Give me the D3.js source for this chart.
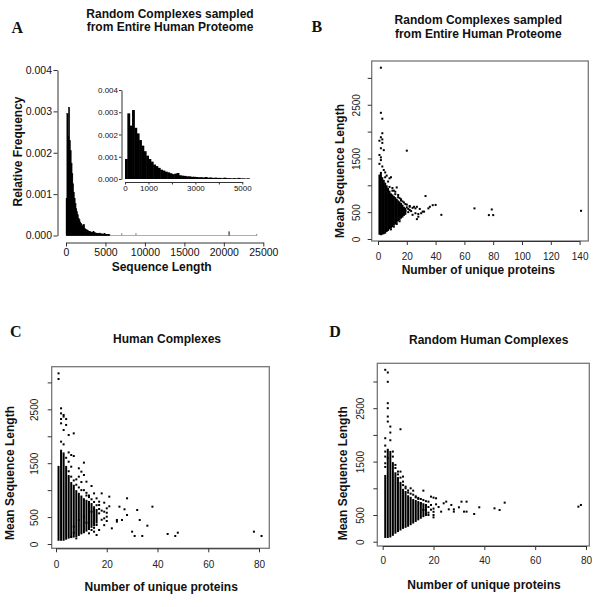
<!DOCTYPE html>
<html><head><meta charset="utf-8">
<script src="https://cdn.jsdelivr.net/npm/d3@7"></script>
<style>body{margin:0;background:#fff}svg{display:block}</style>
</head><body><svg id="c" width="600" height="607"></svg>
<script>
// ---------- DATA ----------
// Panel A: histogram of sequence length (bin start, relative frequency x1e-3)
const binWidth = 100;
const histLo = [0,100,200,300,400,500,600,700,800,900,1000,1100,1200,1300,1400,1500,1600,1700,1800,1900,2000,2100,2200,2300,2400,2500,2600,2700,2800,2900,3000,3100,3200,3300,3400,3500,3600,3700,3800,3900,4000,4100,4200,4300,4400,4500,4600,4700,4800,4900,5000,5100,5200,5300,5400];
const histFreq = [0.9,2.95,2.4,3.1,2.3,2.05,1.75,1.5,1.25,1.05,0.9,0.78,0.65,0.58,0.5,0.42,0.38,0.33,0.3,0.26,0.22,0.24,0.27,0.17,0.15,0.14,0.12,0.12,0.1,0.1,0.09,0.08,0.08,0.07,0.09,0.06,0.07,0.05,0.06,0.05,0.05,0.04,0.06,0.04,0.04,0.03,0.04,0.03,0.05,0.03,0.03,0.02,0.03,0.02,0.02];
const tailLo = [7000,8800,20600,24100];
const tailFreq = [0.06,0.06,0.1,0.04];
const aXTicks = [0,5000,10000,15000,20000,25000];
const aYTicks = [0,0.001,0.002,0.003,0.004];
const insetXTicks = [0,1000,2000,3000,4000,5000];
const insetXLabels = [0,1000,3000,5000];

// Panel B: random complexes from entire proteome (dense columns + scattered points)
const bColN  = [1,2,3,4,5,6,7,8,9,10,11,12,13,14,15,16,17,18,19];
const bColLo = [80,70,80,90,100,130,150,180,200,220,250,270,300,330,350,380,400,430,450];
const bColHi = [1200,1250,1150,1100,1050,1000,950,900,850,830,800,780,750,720,700,670,640,600,580];
const bPts = [[2,3190],[2,2350],[3,2240],[3,1970],[2,1895],[1,1830],[3,1855],[3,1790],[2,1690],[4,1655],[1,1565],[2,1470],[1,1400],[3,1350],[4,1285],[2,1520],[5,1240],[20,1645],[8,1130],[9,1150],[13,960],[8,970],[12,835],[10,900],[15,760],[17,700],[22,600],[25,600],[26,570],[27,600],[24,450],[26,480],[28,415],[33,800],[35,570],[36,600],[38,630],[31,510],[28,465],[44,450],[30,480],[27,370],[32,510],[40,635],[67,570],[77,445],[80,445],[79,550],[141,525],[20,590],[22,615],[18,540],[21,500],[16,720],[14,820],[11,900],[19,650],[23,520],[6,1180],[7,1070],[5,1150],[10,950],[12,880],[14,780],[16,740],[18,680],[20,640],[21,560],[19,520],[17,470],[22,540],[15,330],[13,280],[11,230],[9,180],[24,580],[29,560]];
const bXTicks = [0,20,40,60,80,100,120,140];

// Panel C: human complexes
const cColN  = [1,2,3,4,5,6,7,8,9,10,11,12,13,14,15,16];
const cColLo = [60,60,60,80,100,110,120,130,150,180,200,230,260,300,330,380];
const cColHi = [1450,1750,1700,1450,1280,1150,1100,1000,950,900,850,820,800,760,700,650];
const cPts = [[1,3168],[1,3063],[2,2519],[2,2425],[2,2320],[3,2395],[3,2364],[4,2320],[2,2240],[5,2023],[7,2054],[3,2116],[4,2210],[6,1652],[7,1633],[5,1528],[6,1435],[11,1510],[9,1405],[10,1343],[11,1281],[9,1250],[12,1157],[14,1077],[15,940],[18,940],[16,848],[17,786],[19,767],[21,879],[25,693],[28,848],[27,644],[32,631],[38,693],[20,662],[20,507],[20,427],[24,446],[24,415],[26,446],[28,538],[33,446],[36,340],[22,291],[30,229],[31,149],[34,149],[44,186],[47,149],[48,210],[78,229],[81,149],[16,167],[17,260],[15,229],[16,353],[13,198],[17,569],[19,476],[17,724],[14,600],[11,507],[12,396],[9,446],[7,322],[7,210],[8,105],[6,136],[2,1900],[3,1850],[4,1600],[5,1700],[8,1200],[13,900],[10,1000],[12,950],[5,1350],[6,1250],[7,1180],[8,1100],[9,1050],[10,1150],[11,1000],[12,900],[13,870],[14,830],[15,780],[16,720],[17,650],[18,620],[19,600],[20,580],[18,450],[19,350],[15,300],[14,260],[21,700]];

// Panel D: random human complexes
const dColN  = [1,2,3,4,5,6,7,8,9,10,11,12,13,14,15,16,17];
const dColLo = [70,70,80,110,150,180,210,240,260,280,310,340,370,400,430,460,480];
const dColHi = [1250,1740,1700,1490,1300,1210,1120,990,950,870,840,800,780,760,740,720,700];
const dPts = [[1,3219],[2,3169],[2,2994],[2,2594],[2,2500],[2,2344],[2,2250],[7,2106],[1,1938],[3,2156],[3,2044],[1,1688],[1,1594],[1,1469],[2,1563],[4,1688],[4,1594],[5,1438],[6,1313],[7,1313],[8,1219],[8,1125],[9,1031],[11,1000],[12,956],[16,956],[19,844],[20,825],[21,813],[18,750],[19,688],[17,688],[15,719],[16,594],[17,594],[18,544],[20,500],[20,456],[23,563],[24,719],[25,750],[26,606],[27,688],[28,606],[28,563],[31,750],[33,750],[32,563],[33,563],[30,644],[36,519],[38,644],[44,625],[46,594],[48,731],[77,656],[78,688],[1,1800],[1,1400],[3,1900],[13,850],[14,820],[10,920],[5,1380],[6,1260],[7,1200],[8,1060],[9,1000],[10,960],[11,900],[12,880],[13,830],[14,800],[15,800],[16,780],[17,760],[18,650],[19,600],[20,620],[21,700],[22,650],[18,500],[17,520],[20,560]];
const cdXTicks = [0,20,40,60,80];
const seqYTicks = [0,500,1000,1500,2000,2500,3000];
const seqYLabels = [0,500,1500,2500];

// ---------- DRAW ----------
const SANS = "'Liberation Sans', Arial, sans-serif";
const svg = d3.select("#c");

function styleAxis(g, size, color){
  g.attr("font-family",SANS).attr("font-size",size);
  g.selectAll("text").attr("fill",color);
  g.selectAll("line").attr("stroke","#333");
  g.select(".domain").attr("stroke","#333");
}
function boldText(x,y,txt,size,anchor,rot){
  const t = svg.append("text").attr("font-family",SANS).attr("font-weight","bold").attr("font-size",size)
    .attr("text-anchor",anchor||"middle").attr("fill","#111").text(txt);
  if(rot) t.attr("transform",`translate(${x},${y}) rotate(-90)`);
  else t.attr("x",x).attr("y",y);
  return t;
}
function letter(x,y,t){
  svg.append("text").attr("x",x).attr("y",y).attr("font-family","'Liberation Serif', 'Times New Roman', serif")
    .attr("font-weight","bold").attr("font-size",16).attr("fill","#111").text(t);
}

// ---- Panel A main histogram ----
const ax = d3.scaleLinear().domain([0,25000]).range([66,263.3]);
const ay = d3.scaleLinear().domain([0,0.004]).range([235.5,70]);
svg.append("line").attr("x1",ax(0)).attr("x2",ax(24200)).attr("y1",ay(0)).attr("y2",ay(0))
  .attr("stroke","#999").attr("stroke-width",0.8);
svg.append("g").selectAll("rect").data(histLo).join("rect")
  .attr("x",d=>ax(d)).attr("width",d=>ax(d+binWidth)-ax(d)+0.6)
  .attr("y",(d,i)=>ay(histFreq[i]/1000)).attr("height",(d,i)=>ay(0)-ay(histFreq[i]/1000))
  .attr("fill","#000").attr("stroke","#000").attr("stroke-width",0.35);
svg.append("g").selectAll("rect").data(tailLo).join("rect")
  .attr("x",d=>ax(d)).attr("width",1)
  .attr("y",(d,i)=>ay(tailFreq[i]/1000)).attr("height",(d,i)=>ay(0)-ay(tailFreq[i]/1000))
  .attr("fill",(d,i)=>i===2?"#111":"#888");
const gAX = svg.append("g").attr("transform","translate(0,242.5)")
  .call(d3.axisBottom(ax).tickValues(aXTicks).tickSize(4).tickSizeOuter(0).tickPadding(2).tickFormat(d3.format("d")));
styleAxis(gAX,10.5,"#111");
const gAY = svg.append("g").attr("transform","translate(57.5,0)")
  .call(d3.axisLeft(ay).tickValues(aYTicks).tickSize(4).tickSizeOuter(0).tickPadding(1.5).tickFormat(d3.format(".3f")));
styleAxis(gAY,10.5,"#111");

// ---- Panel A inset ----
const ix = d3.scaleLinear().domain([0,5000]).range([125,242.3]);
const iy = d3.scaleLinear().domain([0,0.004]).range([179,90]);
svg.append("g").selectAll("rect").data(histLo.filter(d=>d<5300)).join("rect")
  .attr("x",d=>ix(d)).attr("width",d=>ix(d+binWidth)-ix(d)+0.5)
  .attr("y",(d,i)=>iy(histFreq[i]/1000)).attr("height",(d,i)=>iy(0)-iy(histFreq[i]/1000))
  .attr("fill","#000");
const gIX = svg.append("g").attr("transform","translate(0,182)")
  .call(d3.axisBottom(ix).tickValues(insetXTicks).tickSize(2.5).tickSizeOuter(0).tickPadding(0.8)
  .tickFormat(d=>insetXLabels.includes(d)?d:""));
styleAxis(gIX,8,"#111");
const gIY = svg.append("g").attr("transform","translate(121.5,0)")
  .call(d3.axisLeft(iy).tickValues(aYTicks).tickSize(2.5).tickSizeOuter(0).tickPadding(1).tickFormat(d3.format(".3f")));
styleAxis(gIY,8,"#111");

boldText(170,17.9,"Random Complexes sampled",12);
boldText(170,31.3,"from Entire Human Proteome",12);
letter(11.5,33.3,"A");
boldText(21.5,151.5,"Relative Frequency",12,"middle",true);
boldText(161.7,271,"Sequence Length",12);

// ---- Scatter panels ----
function scatter(o){
  const x = d3.scaleLinear().domain([0,o.xMax]).range(o.xr);
  const y = d3.scaleLinear().domain([0,3000]).range(o.yr);
  const g = svg.append("g");
  g.selectAll("rect.col").data(o.colN).join("rect").attr("class","col")
    .attr("x",d=>x(d)-1).attr("width",2)
    .attr("y",(d,i)=>y(o.colHi[i])).attr("height",(d,i)=>y(o.colLo[i])-y(o.colHi[i]))
    .attr("fill","#000");
  g.selectAll("rect.pt").data(o.pts).join("rect").attr("class","pt")
    .attr("x",d=>x(d[0])-1).attr("y",d=>y(d[1])-1).attr("width",2).attr("height",2).attr("fill","#000");
  svg.append("rect").attr("x",o.box[0]).attr("y",o.box[1]).attr("width",o.box[2]-o.box[0]).attr("height",o.box[3]-o.box[1])
    .attr("fill","none").attr("stroke","#777").attr("stroke-width",1.3);
  const gx = svg.append("g").attr("transform",`translate(0,${o.box[3]})`)
    .call(d3.axisBottom(x).tickValues(o.xTicks).tickSize(4).tickSizeOuter(0).tickPadding(o.xPad));
  styleAxis(gx,10,"#222");
  const gy = svg.append("g").attr("transform",`translate(${o.box[0]},0)`)
    .call(d3.axisLeft(y).tickValues(seqYTicks).tickSize(4).tickSizeOuter(0)
      .tickFormat(d=>seqYLabels.includes(d)?d:""));
  styleAxis(gy,10,"#222");
  gy.select(".domain").remove();
  gy.selectAll(".tick text").attr("transform","rotate(-90)").attr("x",0).attr("y",-o.yLab)
    .attr("dy",0).attr("text-anchor","middle");
}

scatter({xMax:140, xr:[378,579.6], yr:[239,77.9], box:[371.7,61,588.3,241], xTicks:bXTicks, xPad:8,
  yLab:11.4, colN:bColN, colLo:bColLo, colHi:bColHi, pts:bPts});
boldText(478.3,23.6,"Random Complexes sampled",12);
boldText(478.3,38,"from Entire Human Proteome",12);
letter(311.5,31.7,"B");
boldText(344,171,"Mean Sequence Length",12,"middle",true);
boldText(478.3,274.3,"Number of unique proteins",12);

scatter({xMax:80, xr:[56,259], yr:[544,382.4], box:[51.7,366.7,269.3,548.3], xTicks:cdXTicks, xPad:8.4,
  yLab:13.6, colN:cColN, colLo:cColLo, colHi:cColHi, pts:cPts});
boldText(167,342.6,"Human Complexes",12);
letter(10,336.7,"C");
boldText(14,473,"Mean Sequence Length",12,"middle",true);
boldText(161.2,591,"Number of unique proteins",12);

scatter({xMax:80, xr:[382.7,586], yr:[541.7,381.5], box:[377.3,363.3,589.3,546], xTicks:cdXTicks, xPad:6.4,
  yLab:13, colN:dColN, colLo:dColLo, colHi:dColHi, pts:dPts});
boldText(488.7,343.6,"Random Human Complexes",12);
letter(329.3,337.3,"D");
boldText(347.3,473.3,"Mean Sequence Length",12,"middle",true);
boldText(484,588.6,"Number of unique proteins",12);
</script></body></html>
